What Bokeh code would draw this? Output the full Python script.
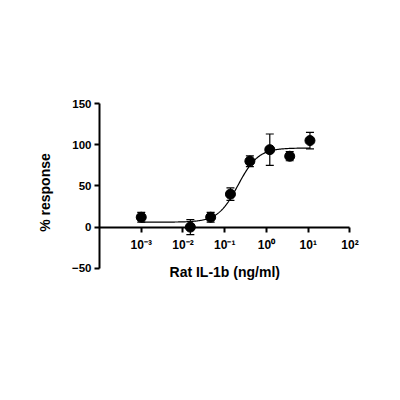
import numpy as np
from bokeh.plotting import figure
from bokeh.models import LogAxis, LinearAxis, FixedTicker, Whisker, ColumnDataSource, Range1d, Label
from bokeh.embed import file_html
from bokeh.resources import INLINE

# data
conc = [0.001, 0.015, 0.046, 0.137, 0.40, 1.2, 3.6, 11.0]
resp = [12, 0, 12, 40, 80, 94, 86, 105]
err = [6, 9, 6, 7.5, 6.5, 19, 5.5, 10]

# 4PL fit parameters
fit_bottom = 6.0
fit_top = 96.0
fit_log_ec50 = -0.68
fit_hill = 1.8
fit_x_min = 0.001
fit_x_max = 11.0

x_ticks = [1e-3, 1e-2, 1e-1, 1e0, 1e1, 1e2]
x_tick_labels = ["10⁻³", "10⁻²", "10⁻¹", "10⁰", "10¹", "10²"]
y_ticks = [-50, 0, 50, 100, 150]

x_label = "Rat IL-1b (ng/ml)"
y_label = "% response"

FONT = "Liberation Sans"

p = figure(width=392, height=392, output_backend="svg", toolbar_location=None,
           x_axis_type="log", x_axis_location=None, y_axis_location=None,
           x_range=Range1d(1e-4, 10 ** 2.3), y_range=Range1d(-66, 150))
p.min_border_left = 99
p.min_border_top = 103
p.min_border_right = 30
p.min_border_bottom = 111
p.outline_line_color = None
p.grid.visible = False
p.background_fill_color = "white"
p.border_fill_color = "white"

xa = LogAxis(ticker=FixedTicker(ticks=x_ticks), fixed_location=0, bounds=(1e-4, 1e2))
xa.major_label_overrides = {t: l for t, l in zip(x_ticks, x_tick_labels)}
xa.minor_tick_line_color = None
xa.axis_line_width = 2
xa.major_tick_line_width = 2
xa.major_tick_in = 0
xa.major_tick_out = 5
xa.major_label_standoff = 6
xa.major_label_text_font = FONT
xa.major_label_text_font_style = "bold"
xa.major_label_text_font_size = "12px"
xa.major_label_text_color = "black"
p.add_layout(xa, "below")

ya = LinearAxis(ticker=FixedTicker(ticks=y_ticks), bounds=(-50, 150))
ya.minor_tick_line_color = None
ya.axis_line_width = 2
ya.major_tick_line_width = 2
ya.major_tick_in = 0
ya.major_tick_out = 5
ya.major_label_standoff = 3
ya.major_label_text_font = FONT
ya.major_label_text_font_style = "bold"
ya.major_label_text_font_size = "11.5px"
ya.major_label_text_color = "black"
ya.axis_label = y_label
ya.axis_label_text_font = FONT
ya.axis_label_text_font_style = "bold"
ya.axis_label_text_font_size = "14px"
ya.axis_label_text_color = "black"
ya.axis_label_standoff = 16
p.add_layout(ya, "left")

p.add_layout(Label(x=0.1, y=-55, text=x_label, text_align="center", text_baseline="middle",
                   text_font=FONT, text_font_style="bold", text_font_size="14px",
                   text_color="black"))

# fitted curve
xc = np.logspace(np.log10(fit_x_min), np.log10(fit_x_max), 300)
yc = fit_bottom + (fit_top - fit_bottom) / (1 + 10 ** ((fit_log_ec50 - np.log10(xc)) * fit_hill))
p.line(xc, yc, line_color="black", line_width=1.2)

src = ColumnDataSource(dict(x=conc, y=resp,
                            lo=[r - e for r, e in zip(resp, err)],
                            hi=[r + e for r, e in zip(resp, err)]))
w = Whisker(source=src, base="x", lower="lo", upper="hi", line_color="black", line_width=1.2)
w.upper_head.size = 8
w.lower_head.size = 8
w.upper_head.line_width = 1.2
w.lower_head.line_width = 1.2
p.add_layout(w)
p.scatter("x", "y", source=src, size=10, color="black")

open("out.html", "w").write(file_html(p, INLINE))
